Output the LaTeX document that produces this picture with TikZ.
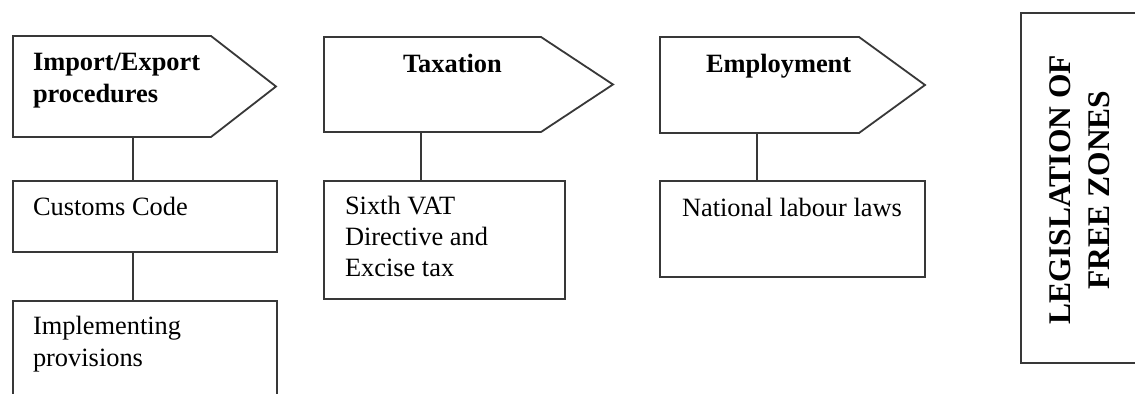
\documentclass[tikz,border=0pt]{standalone}
\usepackage{fontspec}
\setmainfont{Liberation Serif}
\begin{document}
\begin{tikzpicture}[x=0.5pt,y=-0.5pt,
  line/.style={draw=black!78,line width=0.9pt},
  box/.style={line,rectangle,inner sep=0pt,outer sep=0pt,anchor=north west},
  hdrrect/.style={rectangle,inner sep=0pt,outer sep=0pt,anchor=north west},
  txt/.style={inner sep=0pt,outer sep=0pt,anchor=base west,align=left,
    font=\fontsize{13.2pt}{16pt}\selectfont},
  hdrtxt/.style={txt,font=\fontsize{13.2pt}{16pt}\selectfont\bfseries},
  conn/.style={line}]
\clip (0,0) rectangle (1135,394);
\fill[white] (0,0) rectangle (1135,394);

% header arrows (rectangular part as nodes)
\node[hdrrect,minimum width=99pt,minimum height=50.5pt] (p1) at (13,36) {};
\coordinate (p1tip) at (276,86.5);
\draw[line,line join=miter] (p1.north west) -- (p1.north east) -- (p1tip) -- (p1.south east) -- (p1.south west) -- cycle;

\node[hdrrect,minimum width=108.5pt,minimum height=47.5pt] (p2) at (324,37) {};
\coordinate (p2tip) at (613,84.5);
\draw[line,line join=miter] (p2.north west) -- (p2.north east) -- (p2tip) -- (p2.south east) -- (p2.south west) -- cycle;

\node[hdrrect,minimum width=99.5pt,minimum height=48pt] (p3) at (660,37) {};
\coordinate (p3tip) at (925,85);
\draw[line,line join=miter] (p3.north west) -- (p3.north east) -- (p3tip) -- (p3.south east) -- (p3.south west) -- cycle;

% multi-line nodes: base anchor is the last line's baseline
\node[hdrtxt] (h1) at (33,103) {Import/Export\\procedures};
\node[hdrtxt] (h2) at (403,73) {Taxation};
\node[hdrtxt] (h3) at (706,73) {Employment};

% boxes
\node[box,minimum width=132pt,minimum height=35.5pt] (b1) at (13,181) {};
\node[box,minimum width=132pt,minimum height=60pt] (b1b) at (13,301) {};
\node[box,minimum width=120.5pt,minimum height=59pt] (b2) at (324,181) {};
\node[box,minimum width=132.5pt,minimum height=48pt] (b3) at (660,181) {};

\node[txt] (t1) at (33,216) {Customs Code};
\node[txt] (t1b) at (33,367) {Implementing\\provisions};
\node[txt,font=\fontsize{13.2pt}{15.5pt}\selectfont] (t2) at (345,277) {Sixth VAT\\Directive and\\Excise tax};
\node[txt] (t3) at (682,217) {National labour laws};

% connectors
\draw[conn] ([xshift=60pt]p1.south west) -- ([xshift=60pt]b1.north west);
\draw[conn] ([xshift=60pt]b1.south west) -- ([xshift=60pt]b1b.north west);
\draw[conn] ([xshift=48.5pt]p2.south west) -- ([xshift=48.5pt]b2.north west);
\draw[conn] ([xshift=48.5pt]p3.south west) -- ([xshift=48.5pt]b3.north west);

% legislation box
\node[box,minimum width=70pt,minimum height=175pt] (leg) at (1021,13) {};
\node[rotate=90,align=center,inner sep=0pt,
  font=\fontsize{15.75pt}{19.5pt}\selectfont\bfseries] (legt) at (1079.5,190) {LEGISLATION OF\\FREE ZONES};
\end{tikzpicture}
\end{document}
